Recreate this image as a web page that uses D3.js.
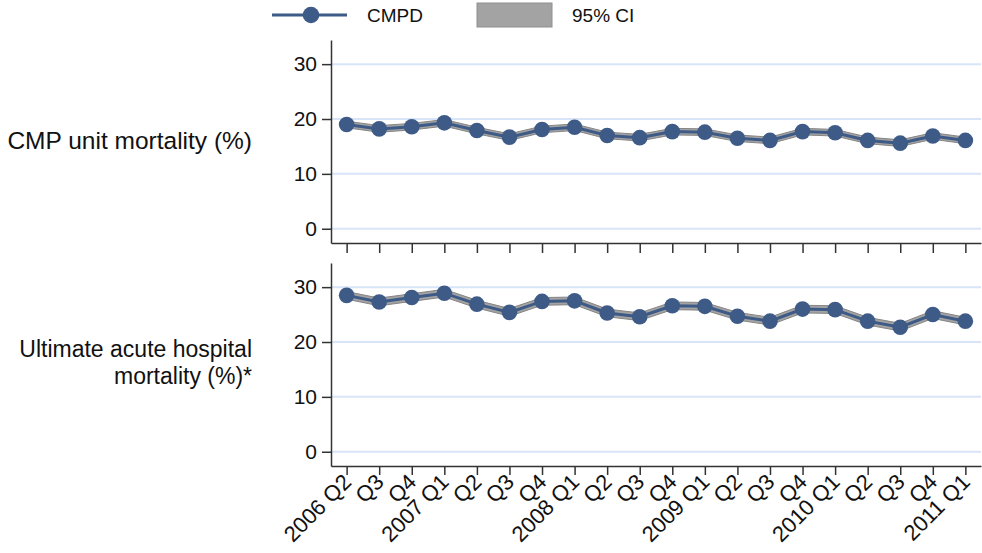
<!DOCTYPE html>
<html>
<head>
<meta charset="utf-8">
<script src="https://cdn.jsdelivr.net/npm/d3@7"></script>
<style>
  body { margin: 0; background: #fff; }
  svg text { font-family: "Liberation Sans", Arial, sans-serif; fill: #111; }
</style>
</head>
<body>
<div id="chart"></div>
<script>
// quarters on the x axis
var quarters = ["2006 Q2", "Q3", "Q4", "2007 Q1", "Q2", "Q3", "Q4", "2008 Q1", "Q2", "Q3",
                "Q4", "2009 Q1", "Q2", "Q3", "Q4", "2010 Q1", "Q2", "Q3", "Q4", "2011 Q1"]

// CMP unit mortality (%)
var unitMort = [19.0, 18.2, 18.6, 19.3, 17.9, 16.7, 18.1, 18.5, 17.0, 16.6, 17.7, 17.6, 16.5, 16.1, 17.7, 17.5, 16.1, 15.6, 16.9, 16.1]
var unitLow  = [18.4, 17.6, 18.0, 18.7, 17.3, 16.1, 17.5, 17.9, 16.4, 16.0, 17.1, 17.0, 15.9, 15.5, 17.1, 16.9, 15.5, 15.0, 16.3, 15.5]
var unitHigh = [19.6, 18.8, 19.2, 19.9, 18.5, 17.3, 18.7, 19.1, 17.6, 17.2, 18.3, 18.2, 17.1, 16.7, 18.3, 18.1, 16.7, 16.2, 17.5, 16.7]

// Ultimate acute hospital mortality (%)
var hospMort = [28.5, 27.3, 28.1, 28.9, 26.9, 25.4, 27.4, 27.5, 25.3, 24.6, 26.6, 26.5, 24.7, 23.8, 26.0, 25.9, 23.8, 22.7, 25.0, 23.8]
var hospLow  = [27.8, 26.6, 27.4, 28.2, 26.2, 24.7, 26.7, 26.8, 24.6, 23.9, 25.9, 25.8, 24.0, 23.1, 25.3, 25.2, 23.1, 22.0, 24.3, 23.1]
var hospHigh = [29.2, 28.0, 28.8, 29.6, 27.6, 26.1, 28.1, 28.2, 26.0, 25.3, 27.3, 27.2, 25.4, 24.5, 26.7, 26.6, 24.5, 23.4, 25.7, 24.5]

var yTicks = [0, 10, 20, 30]

var width = 982, height = 553
var navy = "#3e5a87"

var svg = d3.select("#chart")
    .append("svg")
    .attr("width", width)
    .attr("height", height)

// x positions by index, labels come from quarters
var x = d3.scalePoint()
    .domain(d3.range(quarters.length))
    .range([331, 981])
    .padding(0.48)

var panels = [
    {top: 40, bottom: 243, vals: unitMort, lo: unitLow, hi: unitHigh, labels: ["CMP unit mortality (%)"], labelY: 140.5, labelSize: 24.5, tick: 10, showX: false},
    {top: 263, bottom: 466, vals: hospMort, lo: hospLow, hi: hospHigh, labels: ["Ultimate acute hospital", "mortality (%)*"], labelY: 348.5, labelSize: 23, tick: 9, showX: true}
]

panels.forEach(function(p) {
    var y = d3.scaleLinear().domain([-2.6, 34.4]).range([p.bottom, p.top])
    var g = svg.append("g")

    // gridlines
    g.selectAll(".grid")
        .data(yTicks)
        .enter().append("line")
        .attr("x1", 331).attr("x2", 981)
        .attr("y1", function(d) { return y(d) })
        .attr("y2", function(d) { return y(d) })
        .style("stroke", "#d8e4f8")
        .style("stroke-width", 2)

    // y axis
    var ya = g.append("g")
        .attr("transform", "translate(331,0)")
        .call(d3.axisLeft(y).tickValues(yTicks).tickSize(9).tickSizeOuter(0).tickPadding(5))
    ya.selectAll("text").style("font-size", "21px").style("fill", "#111")
    ya.selectAll("line, path").style("stroke", "#333").style("stroke-width", 1.5)

    // x axis
    var xa = g.append("g")
        .attr("transform", "translate(0," + p.bottom + ")")
        .call(d3.axisBottom(x).tickSize(p.tick).tickSizeOuter(0).tickFormat(function(i) { return quarters[i] }))
    xa.selectAll("line, path").style("stroke", "#333").style("stroke-width", 1.5)
    if (p.showX) {
        xa.selectAll("text")
            .style("font-size", "22px")
            .style("fill", "#111")
            .attr("text-anchor", "end")
            .attr("x", 0).attr("y", 0).attr("dy", "0.35em")
            .attr("transform", "translate(0,12) rotate(-45)")
    } else {
        xa.selectAll("text").remove()
    }

    // CI band
    var area = d3.area()
        .x(function(d, i) { return x(i) })
        .y0(function(d, i) { return y(p.lo[i]) })
        .y1(function(d, i) { return y(p.hi[i]) })
    g.append("path")
        .datum(p.vals)
        .attr("d", area)
        .style("fill", "#a3a3a3")
        .style("stroke", "#858585")
        .style("stroke-width", 1)

    // line and markers
    var line = d3.line()
        .x(function(d, i) { return x(i) })
        .y(function(d) { return y(d) })
    g.append("path")
        .datum(p.vals)
        .attr("d", line)
        .style("fill", "none")
        .style("stroke", navy)
        .style("stroke-width", 3)

    g.selectAll(".dot")
        .data(p.vals)
        .enter().append("circle")
        .attr("cx", function(d, i) { return x(i) })
        .attr("cy", function(d) { return y(d) })
        .attr("r", 7.8)
        .style("fill", navy)

    // row label
    g.selectAll(".rowlab")
        .data(p.labels)
        .enter().append("text")
        .attr("x", 252)
        .attr("y", function(d, i) { return p.labelY + i * 27.5 })
        .attr("dy", "0.35em")
        .attr("text-anchor", "end")
        .style("font-size", p.labelSize + "px")
        .text(function(d) { return d })
})

// legend
var leg = svg.append("g")
leg.append("line")
    .attr("x1", 272).attr("x2", 347).attr("y1", 15).attr("y2", 15)
    .style("stroke", navy).style("stroke-width", 3)
leg.append("circle")
    .attr("cx", 311).attr("cy", 15).attr("r", 8.3)
    .style("fill", navy)
leg.append("text")
    .attr("x", 367).attr("y", 15).attr("dy", "0.35em")
    .style("font-size", "19px")
    .text("CMPD")
leg.append("rect")
    .attr("x", 477).attr("y", 3).attr("width", 75).attr("height", 24)
    .style("fill", "#a3a3a3").style("stroke", "#8f8f8f")
leg.append("text")
    .attr("x", 572).attr("y", 15).attr("dy", "0.35em")
    .style("font-size", "19px")
    .text("95% CI")
</script>
</body>
</html>
